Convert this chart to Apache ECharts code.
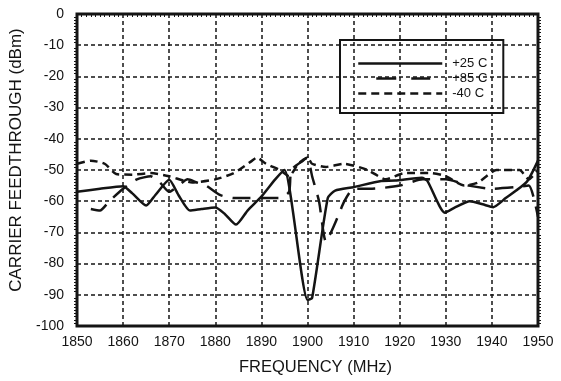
<!DOCTYPE html>
<html>
<head>
<meta charset="utf-8">
<style>
  html, body { margin: 0; padding: 0; background: #fff; }
  #chart { width: 561px; height: 381px; }
</style>
<script src="https://cdn.jsdelivr.net/npm/echarts@6/dist/echarts.min.js"></script>
</head>
<body>
<div id="chart"></div>
<script>
// Carrier feedthrough vs. frequency at three temperatures: [MHz, dBm]
const seriesNames = ['+25 C', '+85 C', '-40 C'];

const t25 = [
  [1850, -57], [1855, -56], [1860, -55.2], [1862, -57.5], [1865, -61.4],
  [1867, -58], [1870, -53.1], [1872, -58], [1874.5, -63], [1877, -62.5],
  [1880, -62], [1882, -64], [1884.5, -67.5], [1887, -63], [1890, -58.5],
  [1893, -53], [1895, -50], [1900, -91.6], [1901, -91], [1904.4, -59],
  [1906, -56.6], [1910, -55.5], [1916, -53.5], [1919, -53.4], [1924.8, -52.5],
  [1926, -53.5], [1929.8, -63.7], [1932, -62], [1935.2, -60], [1938, -61],
  [1940.3, -61.9], [1943, -59], [1947.5, -53.9], [1950, -47]
];

const t85 = [
  [1853, -62.5], [1855, -63], [1857, -60], [1860, -56], [1863, -53],
  [1866, -52], [1868, -54], [1870, -57], [1872, -55], [1874, -53],
  [1876, -54], [1878, -55], [1881, -58], [1884, -59], [1889, -59],
  [1894, -59], [1896, -57], [1896.5, -50], [1899, -47], [1900, -46],
  [1901, -52], [1902.5, -60], [1904, -73], [1906, -67], [1908, -60],
  [1910, -56], [1914, -56], [1920, -55], [1925, -53], [1930, -53],
  [1935, -55], [1940, -56], [1945, -55.5], [1948, -55], [1950, -65]
];

const tm40 = [
  [1850, -48], [1853, -47], [1856, -48], [1858.5, -51.3], [1862, -51.5],
  [1866, -51], [1870, -52], [1875, -54], [1880, -53], [1884, -51],
  [1888, -47], [1889, -46], [1891, -48], [1894, -50], [1896, -52],
  [1898, -48], [1900, -46], [1901, -48], [1904, -49], [1908, -48],
  [1913, -50], [1917, -53], [1921, -51], [1927, -51], [1930, -52],
  [1934, -55], [1937, -54], [1941, -50], [1944, -50], [1946, -50],
  [1948, -53], [1950, -50]
];

const xMin = 1850, xMax = 1950, xStep = 10;
const yMin = -100, yMax = 0, yStep = 10;

const ink = '#141414';
const font = '"Liberation Sans", Arial, sans-serif';

const gridLine = { show: true, lineStyle: { color: ink, width: 1.5, type: [4, 3] } };
const minor = { show: true, splitNumber: 10, length: 3, lineStyle: { color: ink, width: 1 } };
const plain = v => String(v);

function line(name, data, dash) {
  return {
    name: name,
    type: 'line',
    data: data,
    symbol: 'none',
    smooth: 0.2,
    clip: true,
    lineStyle: { color: ink, width: 2.5, type: dash, cap: 'butt' },
    itemStyle: { color: ink }
  };
}

const chart = echarts.init(document.getElementById('chart'), null, { renderer: 'canvas' });
chart.setOption({
  animation: false,
  backgroundColor: '#fff',
  grid: {
    left: 77, right: 23, top: 14, bottom: 53,
    show: true, borderColor: ink, borderWidth: 3, backgroundColor: 'transparent'
  },
  legend: {
    orient: 'vertical',
    left: 340, top: 40,
    padding: [17, 16, 13, 17],
    borderColor: ink, borderWidth: 2,
    itemWidth: 84, itemHeight: 12, itemGap: 2,
    itemStyle: { color: 'transparent', borderWidth: 0, opacity: 0 },
    lineStyle: { width: 2.5 },
    textStyle: { fontFamily: font, fontSize: 13, color: ink, padding: [0, 0, 0, 5] },
    data: [
      { name: seriesNames[0] },
      { name: seriesNames[1], lineStyle: { type: [0, 18, 20, 15, 19, 100] } },
      { name: seriesNames[2] }
    ]
  },
  xAxis: {
    type: 'value',
    min: xMin, max: xMax, interval: xStep,
    name: 'FREQUENCY (MHz)',
    nameLocation: 'middle', nameGap: 33,
    nameTextStyle: { fontFamily: font, fontSize: 16.5, color: ink, padding: [0, 0, 0, 16] },
    axisLine: { show: false },
    axisTick: { show: false },
    minorTick: minor,
    axisLabel: { fontFamily: font, fontSize: 14, color: ink, margin: 9, formatter: plain },
    splitLine: gridLine
  },
  yAxis: [{
    type: 'value',
    min: yMin, max: yMax, interval: yStep,
    name: 'CARRIER FEEDTHROUGH (dBm)',
    nameLocation: 'middle', nameGap: 46,
    nameTextStyle: { fontFamily: font, fontSize: 17, color: ink, padding: [0, 0, 0, 20] },
    axisLine: { show: false },
    axisTick: { show: false },
    minorTick: minor,
    axisLabel: { fontFamily: font, fontSize: 14, color: ink, margin: 13, formatter: plain },
    splitLine: gridLine
  }, {
    type: 'value',
    position: 'right',
    min: yMin, max: yMax, interval: yStep,
    axisLine: { show: false },
    axisTick: { show: false },
    minorTick: minor,
    axisLabel: { show: false },
    splitLine: { show: false }
  }],
  series: [
    line(seriesNames[0], t25, 'solid'),
    line(seriesNames[1], t85, [18, 10]),
    line(seriesNames[2], tm40, [8, 5])
  ]
});
</script>
</body>
</html>
